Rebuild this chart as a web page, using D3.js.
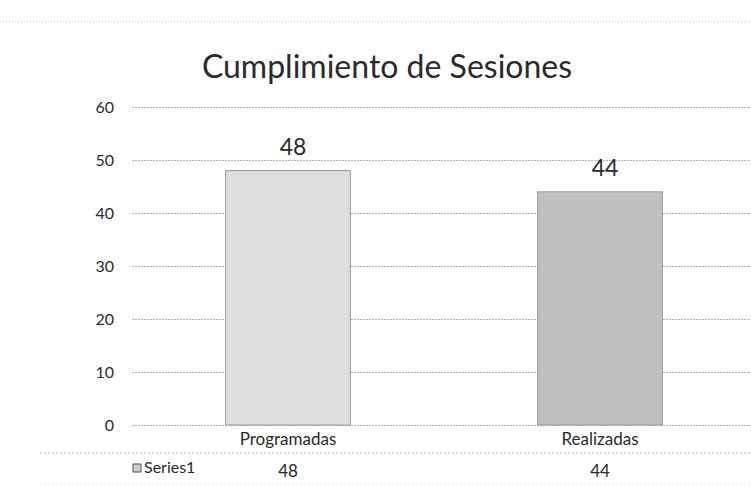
<!DOCTYPE html>
<html>
<head>
    <meta charset="utf-8">
    <title>Cumplimiento de Sesiones</title>
    <style>
        body { margin: 0; background: #fff; }
        text { font-family: Lato, "Open Sans", sans-serif; fill: #2a2a2a; }
    </style>
</head>
<body>

<script src="https://d3js.org/d3.v7.min.js"></script>
<script type="text/javascript">

    // chart data
    var categories = ["Programadas", "Realizadas"];
    var values     = [48, 44];
    var seriesName = "Series1";
    var yTicks     = [0, 10, 20, 30, 40, 50, 60];
    var barColors  = ["#dedede", "#c0c0c0"];

    var W = 751, H = 487;
    var plot = {left: 132, right: 756, top: 107, bottom: 425};

    var svg = d3.select("body")
        .append("svg")
        .attr("width", W)
        .attr("height", H);

    var x = d3.scaleBand()
        .domain(categories)
        .range([plot.left, plot.right])
        .paddingInner(0.6)
        .paddingOuter(0.3);

    var y = d3.scaleLinear()
        .domain([0, 60])
        .range([plot.bottom, plot.top]);

    // faint frame line of the scanned chart area
    svg.append("line")
        .attr("x1", 0).attr("x2", W).attr("y1", 22).attr("y2", 22)
        .style("stroke", "#c8c8c8").style("stroke-dasharray", "1,2");

    // title
    svg.append("text")
        .attr("x", 387)
        .attr("y", 78)
        .attr("text-anchor", "middle")
        .style("font-size", "32px")
        .text("Cumplimiento de Sesiones");

    // gridlines + y labels
    var yAxis = d3.axisLeft(y)
        .tickValues(yTicks)
        .tickSize(-(plot.right - plot.left))
        .tickPadding(18);

    var gy = svg.append("g")
        .attr("transform", "translate(" + plot.left + ",0)")
        .call(yAxis);
    gy.select(".domain").remove();
    gy.selectAll(".tick line")
        .style("stroke", "#b0b0b0")
        .style("stroke-dasharray", "2,1");
    gy.selectAll(".tick text")
        .style("font-size", "16px")
        .style("font-family", "Lato, sans-serif")
        .attr("fill", "#444");

    // bars
    svg.selectAll(".bar")
        .data(values)
        .enter().append("rect")
        .attr("class", "bar")
        .attr("x", function(d, i) { return x(categories[i]); })
        .attr("y", function(d) { return y(d); })
        .attr("width", x.bandwidth())
        .attr("height", function(d) { return y(0) - y(d); })
        .style("fill", function(d, i) { return barColors[i]; })
        .style("stroke", "#999")
        .style("stroke-width", "1px");

    // value labels above bars
    svg.selectAll(".val")
        .data(values)
        .enter().append("text")
        .attr("class", "val")
        .attr("x", function(d, i) { return x(categories[i]) + x.bandwidth() / 2 + 5; })
        .attr("y", function(d) { return y(d) - 16; })
        .attr("text-anchor", "middle")
        .style("font-size", "23px")
        .text(function(d) { return d; });

    // data table below the axis
    var rowLine = 453;
    svg.append("line")
        .attr("x1", 40).attr("x2", W).attr("y1", rowLine).attr("y2", rowLine)
        .style("stroke", "#b8b8b8").style("stroke-dasharray", "2,2");
    svg.append("line")
        .attr("x1", 40).attr("x2", W).attr("y1", 484).attr("y2", 484)
        .style("stroke", "#d8d8d8").style("stroke-dasharray", "1,3");

    svg.selectAll(".cat")
        .data(categories)
        .enter().append("text")
        .attr("class", "cat")
        .attr("x", function(d) { return x(d) + x.bandwidth() / 2; })
        .attr("y", 445)
        .attr("text-anchor", "middle")
        .style("font-size", "17px")
        .text(function(d) { return d; });

    svg.selectAll(".cell")
        .data(values)
        .enter().append("text")
        .attr("class", "cell")
        .attr("x", function(d, i) { return x(categories[i]) + x.bandwidth() / 2; })
        .attr("y", 477)
        .attr("text-anchor", "middle")
        .style("font-size", "17px")
        .text(function(d) { return d; });

    // legend key + series name
    svg.append("rect")
        .attr("x", 133).attr("y", 464)
        .attr("width", 8).attr("height", 8)
        .style("fill", "#cfcfcf")
        .style("stroke", "#555");
    svg.append("text")
        .attr("x", 144)
        .attr("y", 473)
        .style("font-size", "16px")
        .text(seriesName);

</script>
</body>
</html>
